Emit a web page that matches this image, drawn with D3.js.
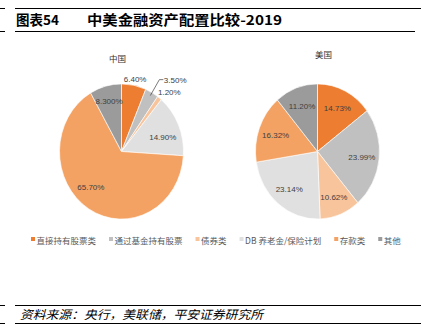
<!DOCTYPE html>
<html><head><meta charset="utf-8">
<script src="https://cdn.jsdelivr.net/npm/d3@7"></script>
<style>
html,body{margin:0;padding:0;background:#fff;}
svg{display:block;}
</style></head>
<body>
<svg id="c" width="421" height="328"></svg>
<script>
const categories = ["直接持有股票类","通过基金持有股票","债券类","DB 养老金/保险计划","存款类","其他"];
const colors = ["#ED7D31","#C0C0C0","#F8C49C","#E0E0E0","#F4A263","#9B9B9B"];
const chinaValues = [6.40, 3.50, 1.20, 14.90, 65.70, 8.30];
const chinaLabels = ["6.40%","3.50%","1.20%","14.90%","65.70%","8.300%"];
const usValues = [14.73, 23.99, 10.62, 23.14, 16.32, 11.20];
const usLabels = ["14.73%","23.99%","10.62%","23.14%","16.32%","11.20%"];
const titleNum = "图表54";
const titleText = "中美金融资产配置比较-2019";
const sourceText = "资料来源：央行，美联储，平安证券研究所";

const svg = d3.select("#c");
const cjk = "'Noto Sans CJK SC', sans-serif";
const lat = "'Liberation Sans', Arial, sans-serif";

// header lines
svg.append("line").attr("x1",0).attr("x2",5).attr("y1",8.5).attr("y2",8.5).attr("stroke","#000").attr("stroke-width",1);
svg.append("line").attr("x1",15).attr("x2",421).attr("y1",8.5).attr("y2",8.5).attr("stroke","#000").attr("stroke-width",1);
svg.append("line").attr("x1",0).attr("x2",5).attr("y1",31.5).attr("y2",31.5).attr("stroke","#000").attr("stroke-width",1);
svg.append("line").attr("x1",15).attr("x2",415).attr("y1",31.5).attr("y2",31.5).attr("stroke","#000").attr("stroke-width",1);

svg.append("text").attr("x",16).attr("y",25).attr("font-family",cjk).attr("font-weight","bold")
  .attr("font-size",13.5).attr("fill","#000").text(titleNum);
svg.append("text").attr("x",87).attr("y",25).attr("font-family",cjk).attr("font-weight","bold")
  .attr("font-size",13.5).attr("fill","#000").attr("textLength",195).attr("lengthAdjust","spacingAndGlyphs").text(titleText);

// footer
svg.append("line").attr("x1",0).attr("x2",5).attr("y1",305.5).attr("y2",305.5).attr("stroke","#000");
svg.append("line").attr("x1",15).attr("x2",421).attr("y1",305.5).attr("y2",305.5).attr("stroke","#000");
svg.append("line").attr("x1",0).attr("x2",5).attr("y1",323.5).attr("y2",323.5).attr("stroke","#000");
svg.append("line").attr("x1",15).attr("x2",421).attr("y1",323.5).attr("y2",323.5).attr("stroke","#000");
svg.append("text").attr("x",20).attr("y",319).attr("font-family",cjk)
  .attr("font-size",12).attr("fill","#000").attr("textLength",243).attr("lengthAdjust","spacingAndGlyphs")
  .attr("style","font-style:italic").text(sourceText);

const pie = d3.pie().sort(null).value(d=>d);
const R = 62;
const SY = 1.09;

function drawPie(cx, cy, values, labels, title, titleX, titleY, opts) {
  svg.append("text").attr("x",titleX).attr("y",titleY).attr("text-anchor","middle")
    .attr("font-family",cjk).attr("font-size",8.5).attr("fill","#333").text(title);
  const g = svg.append("g").attr("transform",`translate(${cx},${cy}) scale(1,${SY})`);
  const arc = d3.arc().innerRadius(0).outerRadius(R);
  const arcs = pie(values);
  g.selectAll("path").data(arcs).join("path")
    .attr("d",arc).attr("fill",(d,i)=>colors[i])
    .attr("stroke","#fff").attr("stroke-width",0.6);
  const lab = svg.append("g").attr("font-family",lat).attr("font-size",8).attr("fill","#404040");
  arcs.forEach((a,i)=>{
    const mid = (a.startAngle + a.endAngle)/2;
    let r = R*0.72;
    let ang = mid;
    const o = opts && opts[i];
    if (o && o.leader) {
      const ex = cx + Math.sin(mid)*R*0.95, ey = cy - Math.cos(mid)*R*0.95*SY;
      const lx = ex + 9, ly = cy - Math.cos(mid)*R*1.22*SY;
      svg.append("polyline").attr("points",`${ex},${ey} ${lx},${ly} ${lx+4},${ly}`)
        .attr("fill","none").attr("stroke","#404040").attr("stroke-width",0.7);
      lab.append("text").attr("x",lx+4.5).attr("y",ly+3).attr("text-anchor","start").text(labels[i]);
      return;
    }
    if (o) { r = R*o.r; ang = mid + (o.da||0); }
    const x = cx + Math.sin(ang)*r;
    const y = cy - Math.cos(ang)*r*SY;
    lab.append("text").attr("x",x).attr("y",y+3).attr("text-anchor","middle").text(labels[i]);
  });
}

drawPie(121.5, 151.5, chinaValues, chinaLabels, "中国", 117.5, 62,
  {0:{r:1.1}, 1:{leader:true}, 2:{r:1.17, da:0.06}, 3:{r:0.7, da:0.09}, 4:{r:0.72, da:0.2}, 5:{r:0.78}});
drawPie(317.5, 151.5, usValues, usLabels, "美国", 323.5, 58, null);

// legend
const leg = svg.append("g").attr("font-family",cjk).attr("font-size",8.5).attr("fill","#595959");
let lx = 31;
categories.forEach((c,i)=>{
  leg.append("rect").attr("x",lx).attr("y",237).attr("width",4).attr("height",4).attr("fill",colors[i]);
  const t = leg.append("text").attr("x",lx+5.5).attr("y",243.5).text(c);
  const w = t.node().getComputedTextLength();
  lx = lx + 5.5 + w + 13;
});
</script>
</body></html>
